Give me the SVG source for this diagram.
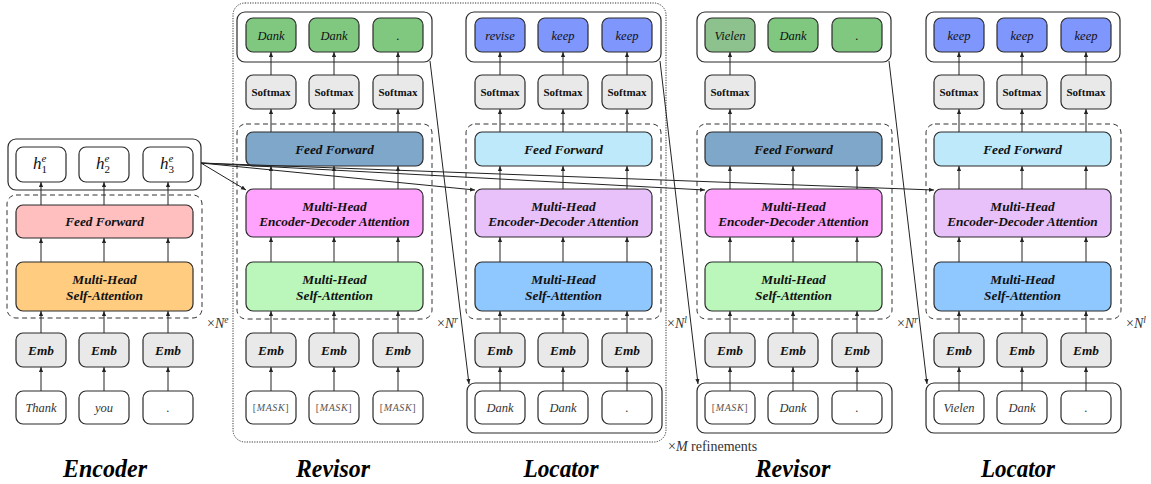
<svg xmlns="http://www.w3.org/2000/svg" width="1151" height="484" viewBox="0 0 1151 484">
<defs>
<style>
.bx{stroke:#2b2b2b;stroke-width:1.2}
.wt{fill:#fff}
.gy{fill:#e9e9e9}
.dash{fill:none;stroke:#333;stroke-width:1;stroke-dasharray:5 3.5}
.dot{fill:none;stroke:#333;stroke-width:1;stroke-dasharray:1.2 1.3}
.ar{stroke:#222;stroke-width:1;fill:none;marker-end:url(#ah)}
.t{font-family:"Liberation Serif","Times New Roman",serif;text-anchor:middle}
.bi{font-weight:bold;font-style:italic;font-size:13.3px;fill:#111}
.sm{font-weight:bold;font-size:11px;fill:#111}
.it{font-style:italic;font-size:12.5px;fill:#333}
.ot{font-style:italic;font-size:12.5px;fill:#111}
.mk{font-size:10px;fill:#555;letter-spacing:0.6px}
.big{font-weight:bold;font-style:italic;font-size:26px;fill:#000}
.nx{font-family:"Liberation Serif","Times New Roman",serif;font-size:14px;fill:#333}
.hh{font-family:"Liberation Serif","Times New Roman",serif;font-style:italic;font-size:17px;fill:#111}
.enff{fill:#ffbfbf}.enat{fill:#ffcc80}
.rff{fill:#7fa7c9}.red{fill:#ffa3ff}.rsa{fill:#bbf7bb}.rout{fill:#80c880}.rvi{fill:#8dc18d}
.lff{fill:#bde9fb}.led{fill:#e8c1fb}.lsa{fill:#8fc7ff}.lout{fill:#7f96fd}
</style>
<marker id="ah" viewBox="0 0 6 6" refX="6" refY="3" markerWidth="5" markerHeight="5" markerUnits="userSpaceOnUse" orient="auto"><path d="M0,0.5 L6,3 L0,5.5z" fill="#222"/></marker>
</defs>
<rect width="1151" height="484" fill="#fff"/>

<!-- refinement loop frame -->
<g id="refine-frame">
<rect class="dot" x="233" y="3" width="433" height="439" rx="12"/>
<text class="nx" x="668" y="451" font-size="16.5">×<tspan font-style="italic">M</tspan> refinements</text>
</g>

<!-- Encoder -->
<g id="encoder">
<rect class="bx wt" x="8" y="139" width="193" height="51" rx="8"/>
<rect class="bx wt" x="16" y="147" width="50" height="35" rx="7"/>
<rect class="bx wt" x="79" y="147" width="50" height="35" rx="7"/>
<rect class="bx wt" x="143" y="147" width="50" height="35" rx="7"/>
<text class="hh" x="33" y="169">h<tspan font-size="11" dy="-7">e</tspan><tspan font-size="11" font-style="normal" dx="-5" dy="11">1</tspan></text>
<text class="hh" x="96" y="169">h<tspan font-size="11" dy="-7">e</tspan><tspan font-size="11" font-style="normal" dx="-5" dy="11">2</tspan></text>
<text class="hh" x="160" y="169">h<tspan font-size="11" dy="-7">e</tspan><tspan font-size="11" font-style="normal" dx="-5" dy="11">3</tspan></text>
<rect class="dash" x="7" y="195" width="195" height="123" rx="9"/>
<rect class="bx enff" x="16" y="205" width="177" height="33" rx="7"/>
<text class="t bi" x="104.5" y="226">Feed Forward</text>
<rect class="bx enat" x="16" y="262" width="177" height="49" rx="7"/>
<text class="t bi" x="104.5" y="283.5">Multi-Head</text>
<text class="t bi" x="104.5" y="299.5">Self-Attention</text>
<text class="nx" x="207" y="328">×<tspan font-style="italic">N</tspan><tspan font-size="9.5" font-style="italic" dy="-5">e</tspan></text>
<rect class="bx gy" x="16" y="333" width="50" height="34" rx="7"/>
<rect class="bx gy" x="79" y="333" width="50" height="34" rx="7"/>
<rect class="bx gy" x="143" y="333" width="50" height="34" rx="7"/>
<text class="t bi" x="41" y="355">Emb</text>
<text class="t bi" x="104" y="355">Emb</text>
<text class="t bi" x="168" y="355">Emb</text>
<rect class="bx wt" x="16" y="391" width="50" height="33" rx="7"/>
<rect class="bx wt" x="79" y="391" width="50" height="33" rx="7"/>
<rect class="bx wt" x="143" y="391" width="50" height="33" rx="7"/>
<text class="t it" x="41" y="412">Thank</text>
<text class="t it" x="104" y="412">you</text>
<text class="t it" x="168" y="412">.</text>
<text class="t big" x="105" y="477" textLength="84" lengthAdjust="spacingAndGlyphs">Encoder</text>
</g>

<!-- Revisor 1 -->
<g id="revisor1">
<rect class="bx wt" x="237" y="12" width="195" height="50" rx="8"/>
<rect class="bx rout" x="246" y="18" width="50" height="34" rx="7"/>
<rect class="bx rout" x="309" y="18" width="50" height="34" rx="7"/>
<rect class="bx rout" x="373" y="18" width="50" height="34" rx="7"/>
<text class="t ot" x="271" y="39.5">Dank</text>
<text class="t ot" x="334" y="39.5">Dank</text>
<text class="t ot" x="398" y="39.5">.</text>
<rect class="bx gy" x="246" y="75" width="50" height="34" rx="7"/>
<rect class="bx gy" x="309" y="75" width="50" height="34" rx="7"/>
<rect class="bx gy" x="373" y="75" width="50" height="34" rx="7"/>
<text class="t sm" x="271" y="95.5">Softmax</text>
<text class="t sm" x="334" y="95.5">Softmax</text>
<text class="t sm" x="398" y="95.5">Softmax</text>
<rect class="dash" x="237" y="124" width="195" height="195" rx="9"/>
<rect class="bx rff" x="246" y="132" width="177" height="34" rx="7"/>
<text class="t bi" x="334.5" y="153.5">Feed Forward</text>
<rect class="bx red" x="246" y="189" width="177" height="48" rx="7"/>
<text class="t bi" x="334.5" y="210.5">Multi-Head</text>
<text class="t bi" x="334.5" y="225.5">Encoder-Decoder Attention</text>
<rect class="bx rsa" x="246" y="262" width="177" height="49" rx="7"/>
<text class="t bi" x="334.5" y="283.5">Multi-Head</text>
<text class="t bi" x="334.5" y="299.5">Self-Attention</text>
<text class="nx" x="437" y="328">×<tspan font-style="italic">N</tspan><tspan font-size="9.5" font-style="italic" dy="-5">r</tspan></text>
<rect class="bx gy" x="246" y="333" width="50" height="34" rx="7"/>
<rect class="bx gy" x="309" y="333" width="50" height="34" rx="7"/>
<rect class="bx gy" x="373" y="333" width="50" height="34" rx="7"/>
<text class="t bi" x="271" y="355">Emb</text>
<text class="t bi" x="334" y="355">Emb</text>
<text class="t bi" x="398" y="355">Emb</text>
<rect class="bx wt" x="246" y="391" width="50" height="33" rx="7"/>
<rect class="bx wt" x="309" y="391" width="50" height="33" rx="7"/>
<rect class="bx wt" x="373" y="391" width="50" height="33" rx="7"/>
<text class="t mk" x="271" y="411">[<tspan font-style="italic">MASK</tspan>]</text>
<text class="t mk" x="334" y="411">[<tspan font-style="italic">MASK</tspan>]</text>
<text class="t mk" x="398" y="411">[<tspan font-style="italic">MASK</tspan>]</text>
<text class="t big" x="333" y="477" textLength="74" lengthAdjust="spacingAndGlyphs">Revisor</text>
</g>

<!-- Locator 1 -->
<g id="locator1">
<rect class="bx wt" x="466" y="12" width="195" height="50" rx="8"/>
<rect class="bx lout" x="475" y="18" width="50" height="34" rx="7"/>
<rect class="bx lout" x="538" y="18" width="50" height="34" rx="7"/>
<rect class="bx lout" x="602" y="18" width="50" height="34" rx="7"/>
<text class="t ot" x="500" y="39.5">revise</text>
<text class="t ot" x="563" y="39.5">keep</text>
<text class="t ot" x="627" y="39.5">keep</text>
<rect class="bx gy" x="475" y="75" width="50" height="34" rx="7"/>
<rect class="bx gy" x="538" y="75" width="50" height="34" rx="7"/>
<rect class="bx gy" x="602" y="75" width="50" height="34" rx="7"/>
<text class="t sm" x="500" y="95.5">Softmax</text>
<text class="t sm" x="563" y="95.5">Softmax</text>
<text class="t sm" x="627" y="95.5">Softmax</text>
<rect class="dash" x="466" y="124" width="195" height="195" rx="9"/>
<rect class="bx lff" x="475" y="132" width="177" height="34" rx="7"/>
<text class="t bi" x="563.5" y="153.5">Feed Forward</text>
<rect class="bx led" x="475" y="189" width="177" height="48" rx="7"/>
<text class="t bi" x="563.5" y="210.5">Multi-Head</text>
<text class="t bi" x="563.5" y="225.5">Encoder-Decoder Attention</text>
<rect class="bx lsa" x="475" y="262" width="177" height="49" rx="7"/>
<text class="t bi" x="563.5" y="283.5">Multi-Head</text>
<text class="t bi" x="563.5" y="299.5">Self-Attention</text>
<text class="nx" x="667" y="328">×<tspan font-style="italic">N</tspan><tspan font-size="9.5" font-style="italic" dy="-5">l</tspan></text>
<rect class="bx gy" x="475" y="333" width="50" height="34" rx="7"/>
<rect class="bx gy" x="538" y="333" width="50" height="34" rx="7"/>
<rect class="bx gy" x="602" y="333" width="50" height="34" rx="7"/>
<text class="t bi" x="500" y="355">Emb</text>
<text class="t bi" x="563" y="355">Emb</text>
<text class="t bi" x="627" y="355">Emb</text>
<rect class="bx" x="467" y="383" width="195" height="50" rx="8" style="fill:none"/>
<rect class="bx wt" x="475" y="391" width="50" height="33" rx="7"/>
<rect class="bx wt" x="538" y="391" width="50" height="33" rx="7"/>
<rect class="bx wt" x="602" y="391" width="50" height="33" rx="7"/>
<text class="t it" x="500" y="412">Dank</text>
<text class="t it" x="563" y="412">Dank</text>
<text class="t it" x="627" y="412">.</text>
<text class="t big" x="561" y="477" textLength="75" lengthAdjust="spacingAndGlyphs">Locator</text>
</g>

<!-- Revisor 2 -->
<g id="revisor2">
<rect class="bx wt" x="697" y="12" width="194" height="50" rx="8"/>
<rect class="bx rvi" x="705" y="18" width="50" height="34" rx="7"/>
<rect class="bx rout" x="768" y="18" width="50" height="34" rx="7"/>
<rect class="bx rout" x="832" y="18" width="50" height="34" rx="7"/>
<text class="t ot" x="730" y="39.5">Vielen</text>
<text class="t ot" x="793" y="39.5">Dank</text>
<text class="t ot" x="857" y="39.5">.</text>
<rect class="bx gy" x="705" y="75" width="50" height="34" rx="7"/>
<text class="t sm" x="730" y="95.5">Softmax</text>
<rect class="dash" x="697" y="124" width="195" height="195" rx="9"/>
<rect class="bx rff" x="705" y="132" width="177" height="34" rx="7"/>
<text class="t bi" x="793.5" y="153.5">Feed Forward</text>
<rect class="bx red" x="705" y="189" width="177" height="48" rx="7"/>
<text class="t bi" x="793.5" y="210.5">Multi-Head</text>
<text class="t bi" x="793.5" y="225.5">Encoder-Decoder Attention</text>
<rect class="bx rsa" x="705" y="262" width="177" height="49" rx="7"/>
<text class="t bi" x="793.5" y="283.5">Multi-Head</text>
<text class="t bi" x="793.5" y="299.5">Self-Attention</text>
<text class="nx" x="897" y="328">×<tspan font-style="italic">N</tspan><tspan font-size="9.5" font-style="italic" dy="-5">r</tspan></text>
<rect class="bx gy" x="705" y="333" width="50" height="34" rx="7"/>
<rect class="bx gy" x="768" y="333" width="50" height="34" rx="7"/>
<rect class="bx gy" x="832" y="333" width="50" height="34" rx="7"/>
<text class="t bi" x="730" y="355">Emb</text>
<text class="t bi" x="793" y="355">Emb</text>
<text class="t bi" x="857" y="355">Emb</text>
<rect class="bx" x="697" y="383" width="195" height="50" rx="8" style="fill:none"/>
<rect class="bx wt" x="705" y="391" width="50" height="33" rx="7"/>
<rect class="bx wt" x="768" y="391" width="50" height="33" rx="7"/>
<rect class="bx wt" x="832" y="391" width="50" height="33" rx="7"/>
<text class="t mk" x="730" y="411">[<tspan font-style="italic">MASK</tspan>]</text>
<text class="t it" x="793" y="412">Dank</text>
<text class="t it" x="857" y="412">.</text>
<text class="t big" x="793" y="477" textLength="75" lengthAdjust="spacingAndGlyphs">Revisor</text>
</g>

<!-- Locator 2 -->
<g id="locator2">
<rect class="bx wt" x="926" y="12" width="194" height="50" rx="8"/>
<rect class="bx lout" x="934" y="18" width="50" height="34" rx="7"/>
<rect class="bx lout" x="997" y="18" width="50" height="34" rx="7"/>
<rect class="bx lout" x="1061" y="18" width="50" height="34" rx="7"/>
<text class="t ot" x="959" y="39.5">keep</text>
<text class="t ot" x="1022" y="39.5">keep</text>
<text class="t ot" x="1086" y="39.5">keep</text>
<rect class="bx gy" x="934" y="75" width="50" height="34" rx="7"/>
<rect class="bx gy" x="997" y="75" width="50" height="34" rx="7"/>
<rect class="bx gy" x="1061" y="75" width="50" height="34" rx="7"/>
<text class="t sm" x="959" y="95.5">Softmax</text>
<text class="t sm" x="1022" y="95.5">Softmax</text>
<text class="t sm" x="1086" y="95.5">Softmax</text>
<rect class="dash" x="926" y="124" width="195" height="195" rx="9"/>
<rect class="bx lff" x="934" y="132" width="177" height="34" rx="7"/>
<text class="t bi" x="1022.5" y="153.5">Feed Forward</text>
<rect class="bx led" x="934" y="189" width="177" height="48" rx="7"/>
<text class="t bi" x="1022.5" y="210.5">Multi-Head</text>
<text class="t bi" x="1022.5" y="225.5">Encoder-Decoder Attention</text>
<rect class="bx lsa" x="934" y="262" width="177" height="49" rx="7"/>
<text class="t bi" x="1022.5" y="283.5">Multi-Head</text>
<text class="t bi" x="1022.5" y="299.5">Self-Attention</text>
<text class="nx" x="1126" y="328">×<tspan font-style="italic">N</tspan><tspan font-size="9.5" font-style="italic" dy="-5">l</tspan></text>
<rect class="bx gy" x="934" y="333" width="50" height="34" rx="7"/>
<rect class="bx gy" x="997" y="333" width="50" height="34" rx="7"/>
<rect class="bx gy" x="1061" y="333" width="50" height="34" rx="7"/>
<text class="t bi" x="959" y="355">Emb</text>
<text class="t bi" x="1022" y="355">Emb</text>
<text class="t bi" x="1086" y="355">Emb</text>
<rect class="bx" x="926" y="383" width="195" height="50" rx="8" style="fill:none"/>
<rect class="bx wt" x="934" y="391" width="50" height="33" rx="7"/>
<rect class="bx wt" x="997" y="391" width="50" height="33" rx="7"/>
<rect class="bx wt" x="1061" y="391" width="50" height="33" rx="7"/>
<text class="t it" x="959" y="412">Vielen</text>
<text class="t it" x="1022" y="412">Dank</text>
<text class="t it" x="1086" y="412">.</text>
<text class="t big" x="1018" y="477" textLength="74" lengthAdjust="spacingAndGlyphs">Locator</text>
</g>

<!-- Connectors -->
<g id="connectors">
<!-- encoder -->
<line class="ar" x1="41" y1="391" x2="41" y2="367"/><line class="ar" x1="104" y1="391" x2="104" y2="367"/><line class="ar" x1="168" y1="391" x2="168" y2="367"/>
<line class="ar" x1="41" y1="333" x2="41" y2="311"/><line class="ar" x1="104" y1="333" x2="104" y2="311"/><line class="ar" x1="168" y1="333" x2="168" y2="311"/>
<line class="ar" x1="41" y1="262" x2="41" y2="238"/><line class="ar" x1="104" y1="262" x2="104" y2="238"/><line class="ar" x1="168" y1="262" x2="168" y2="238"/>
<line class="ar" x1="41" y1="205" x2="41" y2="182"/><line class="ar" x1="104" y1="205" x2="104" y2="182"/><line class="ar" x1="168" y1="205" x2="168" y2="182"/>
<!-- revisor 1 -->
<line class="ar" x1="271" y1="391" x2="271" y2="367"/><line class="ar" x1="334" y1="391" x2="334" y2="367"/><line class="ar" x1="398" y1="391" x2="398" y2="367"/>
<line class="ar" x1="271" y1="333" x2="271" y2="311"/><line class="ar" x1="334" y1="333" x2="334" y2="311"/><line class="ar" x1="398" y1="333" x2="398" y2="311"/>
<line class="ar" x1="271" y1="262" x2="271" y2="237"/><line class="ar" x1="334" y1="262" x2="334" y2="237"/><line class="ar" x1="398" y1="262" x2="398" y2="237"/>
<line class="ar" x1="271" y1="189" x2="271" y2="166"/><line class="ar" x1="334" y1="189" x2="334" y2="166"/><line class="ar" x1="398" y1="189" x2="398" y2="166"/>
<line class="ar" x1="271" y1="132" x2="271" y2="109"/><line class="ar" x1="334" y1="132" x2="334" y2="109"/><line class="ar" x1="398" y1="132" x2="398" y2="109"/>
<line class="ar" x1="271" y1="75" x2="271" y2="52"/><line class="ar" x1="334" y1="75" x2="334" y2="52"/><line class="ar" x1="398" y1="75" x2="398" y2="52"/>
<!-- locator 1 -->
<line class="ar" x1="500" y1="391" x2="500" y2="367"/><line class="ar" x1="563" y1="391" x2="563" y2="367"/><line class="ar" x1="627" y1="391" x2="627" y2="367"/>
<line class="ar" x1="500" y1="333" x2="500" y2="311"/><line class="ar" x1="563" y1="333" x2="563" y2="311"/><line class="ar" x1="627" y1="333" x2="627" y2="311"/>
<line class="ar" x1="500" y1="262" x2="500" y2="237"/><line class="ar" x1="563" y1="262" x2="563" y2="237"/><line class="ar" x1="627" y1="262" x2="627" y2="237"/>
<line class="ar" x1="500" y1="189" x2="500" y2="166"/><line class="ar" x1="563" y1="189" x2="563" y2="166"/><line class="ar" x1="627" y1="189" x2="627" y2="166"/>
<line class="ar" x1="500" y1="132" x2="500" y2="109"/><line class="ar" x1="563" y1="132" x2="563" y2="109"/><line class="ar" x1="627" y1="132" x2="627" y2="109"/>
<line class="ar" x1="500" y1="75" x2="500" y2="52"/><line class="ar" x1="563" y1="75" x2="563" y2="52"/><line class="ar" x1="627" y1="75" x2="627" y2="52"/>
<!-- revisor 2 -->
<line class="ar" x1="730" y1="391" x2="730" y2="367"/><line class="ar" x1="793" y1="391" x2="793" y2="367"/><line class="ar" x1="857" y1="391" x2="857" y2="367"/>
<line class="ar" x1="730" y1="333" x2="730" y2="311"/><line class="ar" x1="793" y1="333" x2="793" y2="311"/><line class="ar" x1="857" y1="333" x2="857" y2="311"/>
<line class="ar" x1="730" y1="262" x2="730" y2="237"/><line class="ar" x1="793" y1="262" x2="793" y2="237"/><line class="ar" x1="857" y1="262" x2="857" y2="237"/>
<line class="ar" x1="730" y1="189" x2="730" y2="166"/><line class="ar" x1="793" y1="189" x2="793" y2="166"/><line class="ar" x1="857" y1="189" x2="857" y2="166"/>
<line class="ar" x1="730" y1="132" x2="730" y2="109"/>
<line class="ar" x1="730" y1="75" x2="730" y2="52"/>
<!-- locator 2 -->
<line class="ar" x1="959" y1="391" x2="959" y2="367"/><line class="ar" x1="1022" y1="391" x2="1022" y2="367"/><line class="ar" x1="1086" y1="391" x2="1086" y2="367"/>
<line class="ar" x1="959" y1="333" x2="959" y2="311"/><line class="ar" x1="1022" y1="333" x2="1022" y2="311"/><line class="ar" x1="1086" y1="333" x2="1086" y2="311"/>
<line class="ar" x1="959" y1="262" x2="959" y2="237"/><line class="ar" x1="1022" y1="262" x2="1022" y2="237"/><line class="ar" x1="1086" y1="262" x2="1086" y2="237"/>
<line class="ar" x1="959" y1="189" x2="959" y2="166"/><line class="ar" x1="1022" y1="189" x2="1022" y2="166"/><line class="ar" x1="1086" y1="189" x2="1086" y2="166"/>
<line class="ar" x1="959" y1="132" x2="959" y2="109"/><line class="ar" x1="1022" y1="132" x2="1022" y2="109"/><line class="ar" x1="1086" y1="132" x2="1086" y2="109"/>
<line class="ar" x1="959" y1="75" x2="959" y2="52"/><line class="ar" x1="1022" y1="75" x2="1022" y2="52"/><line class="ar" x1="1086" y1="75" x2="1086" y2="52"/>
<!-- encoder states to encoder-decoder attention -->
<line class="ar" x1="201" y1="163" x2="246" y2="190"/>
<line class="ar" x1="201" y1="163" x2="475" y2="190"/>
<line class="ar" x1="201" y1="163" x2="705" y2="190"/>
<line class="ar" x1="201" y1="163" x2="934" y2="190"/>
<!-- outputs fed to next stage -->
<line class="ar" x1="430" y1="61" x2="469" y2="384"/>
<line class="ar" x1="660" y1="61" x2="698" y2="384"/>
<line class="ar" x1="889" y1="61" x2="927" y2="384"/>
</g>
</svg>
